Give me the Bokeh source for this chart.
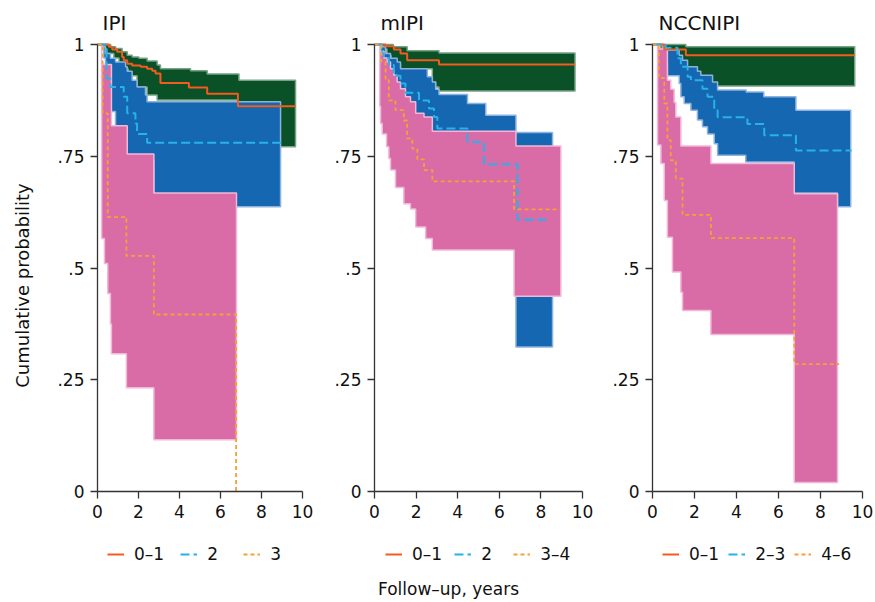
import math
from bokeh.plotting import figure
from bokeh.layouts import row
from bokeh.models import Range1d, Legend, LegendItem, Label, FixedTicker
from bokeh.embed import file_html
from bokeh.resources import INLINE

FONT = "DejaVu Sans"

panel_titles = ["IPI", "mIPI", "NCCNIPI"]
group_labels = [["0–1", "2", "3"], ["0–1", "2", "3–4"], ["0–1", "2–3", "4–6"]]
x_ticks = [0, 2, 4, 6, 8, 10]
y_ticks = [0, 0.25, 0.5, 0.75, 1]
y_tick_labels = ["0", ".25", ".5", ".75", "1"]
y_label = "Cumulative probability"
x_label = "Follow–up, years"

# ---------------- IPI ----------------
ipi_low_t = [0, 0.55, 0.72, 0.96, 1.2, 1.28, 1.45, 1.69, 2.1, 2.42, 2.67, 2.83, 3.07, 4.46, 5.35, 6.85, 9.66]
ipi_low_s = [1, 0.995, 0.989, 0.984, 0.972, 0.965, 0.957, 0.953, 0.95, 0.946, 0.941, 0.935, 0.914, 0.904, 0.89, 0.862, 0.862]
ipi_low_up_t = [0, 0.64, 0.88, 1.2, 1.45, 1.69, 2.02, 2.42, 2.91, 3.07, 4.54, 5.35, 6.9, 9.66]
ipi_low_up_v = [1, 0.995, 0.991, 0.984, 0.976, 0.972, 0.969, 0.963, 0.954, 0.946, 0.941, 0.934, 0.92, 0.92]
ipi_low_lo_t = [0, 0.3, 0.45, 0.8, 1.05, 1.3, 1.5, 1.93, 2.42, 2.91, 6.85, 9.66]
ipi_low_lo_v = [1, 0.99, 0.98, 0.97, 0.96, 0.945, 0.93, 0.905, 0.887, 0.876, 0.771, 0.771]

ipi_mid_t = [0, 0.44, 0.63, 1.28, 1.45, 1.85, 1.93, 2.42, 9.0]
ipi_mid_s = [1, 0.924, 0.905, 0.883, 0.846, 0.823, 0.80, 0.78, 0.78]
ipi_mid_up_t = [0, 0.3, 0.39, 0.63, 0.88, 1.37, 1.45, 1.69, 1.93, 2.34, 2.42, 8.93]
ipi_mid_up_v = [1, 0.995, 0.98, 0.969, 0.961, 0.95, 0.94, 0.92, 0.905, 0.887, 0.872, 0.872]
ipi_mid_lo_t = [0, 0.3, 0.39, 0.5, 0.63, 0.88, 1.45, 2.75, 8.93]
ipi_mid_lo_v = [1, 0.97, 0.93, 0.89, 0.85, 0.8, 0.74, 0.637, 0.637]

ipi_high_t = [0, 0.25, 0.5, 1.41, 2.75, 6.76]
ipi_high_s = [1, 0.846, 0.614, 0.527, 0.396, 0.0]
ipi_high_up_t = [0, 0.2, 0.68, 1.45, 2.75, 6.78]
ipi_high_up_v = [1, 0.955, 0.818, 0.755, 0.668, 0.668]
ipi_high_lo_t = [0, 0.2, 0.34, 0.5, 0.63, 0.68, 1.41, 2.75, 6.78]
ipi_high_lo_v = [1, 0.566, 0.51, 0.443, 0.375, 0.308, 0.232, 0.116, 0.116]

# ---------------- mIPI ----------------
mipi_low_t = [0, 0.53, 0.93, 1.25, 1.57, 3.1, 9.64]
mipi_low_s = [1, 0.996, 0.989, 0.98, 0.965, 0.955, 0.955]
mipi_low_up_t = [0, 0.9, 1.57, 3.1, 9.64]
mipi_low_up_v = [1, 0.995, 0.986, 0.981, 0.981]
mipi_low_lo_t = [0, 0.37, 0.6, 0.8, 1.09, 1.25, 2.78, 2.94, 3.1, 9.64]
mipi_low_lo_v = [1, 0.99, 0.975, 0.965, 0.955, 0.946, 0.916, 0.905, 0.896, 0.896]

mipi_mid_t = [0, 0.37, 0.45, 0.69, 0.93, 1.25, 1.49, 2.14, 2.62, 2.86, 3.02, 4.47, 5.27, 6.88, 8.32]
mipi_mid_s = [1, 0.98, 0.97, 0.954, 0.93, 0.913, 0.892, 0.875, 0.857, 0.838, 0.812, 0.782, 0.732, 0.608, 0.608]
mipi_mid_up_t = [0, 0.29, 0.53, 0.77, 1.09, 1.25, 2.54, 2.78, 2.94, 3.1, 4.47, 5.35, 6.8, 8.56]
mipi_mid_up_v = [1, 0.995, 0.98, 0.969, 0.961, 0.946, 0.928, 0.916, 0.9, 0.888, 0.868, 0.842, 0.803, 0.803]
mipi_mid_lo_t = [0, 0.29, 0.53, 0.77, 1.09, 1.5, 2.1, 2.8, 4.5, 5.35, 6.8, 8.56]
mipi_mid_lo_v = [1, 0.96, 0.92, 0.88, 0.85, 0.82, 0.79, 0.76, 0.72, 0.66, 0.323, 0.323]

mipi_high_t = [0, 0.33, 0.53, 0.69, 1.01, 1.41, 1.57, 1.82, 2.06, 2.38, 2.78, 6.71, 8.93]
mipi_high_s = [1, 0.961, 0.92, 0.875, 0.853, 0.83, 0.79, 0.767, 0.743, 0.719, 0.694, 0.631, 0.631]
mipi_high_up_t = [0, 0.25, 0.45, 0.61, 0.77, 0.93, 1.09, 1.25, 1.49, 1.73, 1.98, 2.38, 2.78, 6.8, 8.96]
mipi_high_up_v = [1, 0.985, 0.97, 0.961, 0.946, 0.931, 0.916, 0.901, 0.883, 0.872, 0.846, 0.838, 0.806, 0.773, 0.773]
mipi_high_lo_t = [0, 0.25, 0.29, 0.37, 0.58, 0.69, 0.77, 1.01, 1.41, 1.73, 1.98, 2.46, 2.78, 6.71, 8.96]
mipi_high_lo_v = [1, 0.862, 0.823, 0.8, 0.771, 0.745, 0.719, 0.68, 0.644, 0.632, 0.592, 0.566, 0.54, 0.437, 0.437]

# ---------------- NCCNIPI ----------------
nccn_low_t = [0, 0.56, 1.59, 9.63]
nccn_low_s = [1, 0.989, 0.976, 0.976]
nccn_low_up_t = [0, 1.59, 9.63]
nccn_low_up_v = [1, 0.995, 0.995]
nccn_low_lo_t = [0, 0.4, 0.6, 0.8, 1.1, 1.4, 1.8, 2.3, 3.0, 9.63]
nccn_low_lo_v = [1, 0.985, 0.96, 0.945, 0.935, 0.925, 0.918, 0.912, 0.907, 0.907]

nccn_mid_t = [0, 0.63, 1.19, 1.35, 1.67, 1.83, 2.38, 2.62, 2.94, 3.1, 4.52, 5.32, 6.83, 9.48]
nccn_mid_s = [1, 0.993, 0.969, 0.95, 0.928, 0.92, 0.901, 0.883, 0.853, 0.837, 0.822, 0.797, 0.763, 0.763]
nccn_mid_up_t = [0, 0.48, 0.56, 0.71, 1.27, 1.43, 1.67, 2.14, 2.3, 2.86, 3.1, 4.46, 5.3, 6.83, 9.44]
nccn_mid_up_v = [1, 0.995, 0.99, 0.987, 0.976, 0.965, 0.95, 0.94, 0.931, 0.916, 0.898, 0.894, 0.883, 0.853, 0.853]
nccn_mid_lo_t = [0, 0.48, 0.56, 0.71, 1.27, 1.35, 1.51, 1.83, 2.14, 2.38, 2.62, 2.94, 3.1, 4.44, 6.75, 8.81, 9.44]
nccn_mid_lo_v = [1, 0.98, 0.96, 0.93, 0.913, 0.883, 0.868, 0.853, 0.831, 0.816, 0.8, 0.778, 0.752, 0.737, 0.668, 0.637, 0.637]

nccn_high_t = [0, 0.3, 0.56, 0.71, 0.87, 1.11, 1.43, 2.78, 6.75, 8.89]
nccn_high_s = [1, 0.925, 0.868, 0.786, 0.741, 0.70, 0.619, 0.567, 0.285, 0.285]
nccn_high_up_t = [0, 0.24, 0.71, 0.87, 1.03, 1.11, 1.35, 2.78, 6.75, 8.81]
nccn_high_up_v = [1, 0.99, 0.92, 0.9, 0.87, 0.838, 0.773, 0.734, 0.666, 0.666]
nccn_high_lo_t = [0, 0.24, 0.4, 0.56, 0.71, 0.95, 1.35, 1.43, 2.78, 6.75, 8.81]
nccn_high_lo_v = [1, 0.775, 0.734, 0.651, 0.569, 0.491, 0.446, 0.405, 0.351, 0.02, 0.02]

panels = [
    [(ipi_low_t, ipi_low_s, ipi_low_up_t, ipi_low_up_v, ipi_low_lo_t, ipi_low_lo_v),
     (ipi_mid_t, ipi_mid_s, ipi_mid_up_t, ipi_mid_up_v, ipi_mid_lo_t, ipi_mid_lo_v),
     (ipi_high_t, ipi_high_s, ipi_high_up_t, ipi_high_up_v, ipi_high_lo_t, ipi_high_lo_v)],
    [(mipi_low_t, mipi_low_s, mipi_low_up_t, mipi_low_up_v, mipi_low_lo_t, mipi_low_lo_v),
     (mipi_mid_t, mipi_mid_s, mipi_mid_up_t, mipi_mid_up_v, mipi_mid_lo_t, mipi_mid_lo_v),
     (mipi_high_t, mipi_high_s, mipi_high_up_t, mipi_high_up_v, mipi_high_lo_t, mipi_high_lo_v)],
    [(nccn_low_t, nccn_low_s, nccn_low_up_t, nccn_low_up_v, nccn_low_lo_t, nccn_low_lo_v),
     (nccn_mid_t, nccn_mid_s, nccn_mid_up_t, nccn_mid_up_v, nccn_mid_lo_t, nccn_mid_lo_v),
     (nccn_high_t, nccn_high_s, nccn_high_up_t, nccn_high_up_v, nccn_high_lo_t, nccn_high_lo_v)],
]

band_fill = ["#0b5128", "#1467b0", "#d96ba7"]
band_line = ["#77a283", "#8cb3de", "#f2b8d8"]
line_color = ["#f55a1e", "#27b2ea", "#f7a035"]
line_dash = ["solid", "9 4", "4 3"]
line_width = [2.0, 2.0, 1.8]

# ---- layout geometry (pixels) ----
H = 602
fig_w = [330, 280, 265]          # figure widths (sum 875)
axis_px = [97, 44, 42]           # x-pixel of data x=0 inside each figure
axis_len = [205, 208, 210]       # pixel length of 0..10
y_top_px, y_zero_px = 44, 491    # pixel rows of y=1 and y=0
legend_x = [107, 55, 52]
legend_spacing = [16, 12, 9]
title_x = [102, 50, 48]
title_base = 22


def stairs(t, v):
    xs, ys = [t[0]], [v[0]]
    for i in range(1, len(t)):
        xs += [t[i], t[i]]
        ys += [v[i - 1], v[i]]
    return xs, ys


def band_polygon(tu, vu, tl, vl):
    ux, uy = stairs(tu, vu)
    lx, ly = stairs(tl, vl)
    return ux + lx[::-1], uy + ly[::-1]


ppu_y = (y_zero_px - y_top_px) / 1.0
y_start = -(H - y_zero_px) / ppu_y
y_end = 1 + y_top_px / ppu_y

figs = []
for k in range(3):
    ppu_x = axis_len[k] / 10.0
    x_start = -axis_px[k] / ppu_x
    x_end = 10 + (fig_w[k] - axis_px[k] - axis_len[k]) / ppu_x
    p = figure(width=fig_w[k], height=H, output_backend="svg", toolbar_location=None,
               x_range=Range1d(x_start, x_end), y_range=Range1d(y_start, y_end),
               min_border=0)
    p.outline_line_color = None
    p.grid.visible = False
    p.background_fill_color = "white"
    p.border_fill_color = "white"

    for ax in (p.xaxis[0], p.yaxis[0]):
        ax.fixed_location = 0
        ax.axis_line_color = "#333333"
        ax.axis_line_width = 1.3
        ax.major_tick_line_color = "#333333"
        ax.major_tick_line_width = 1.3
        ax.major_tick_out = 7
        ax.major_tick_in = 0
        ax.minor_tick_line_color = None
        ax.major_label_text_font = FONT
        ax.major_label_text_font_size = "17px"
        ax.major_label_text_color = "#111111"
    p.xaxis.bounds = (0, 10)
    p.yaxis.bounds = (0, 1)
    p.xaxis.ticker = FixedTicker(ticks=x_ticks)
    p.xaxis.major_label_standoff = 6
    p.yaxis.ticker = FixedTicker(ticks=y_ticks)
    p.yaxis.major_label_overrides = {t: s for t, s in zip(y_ticks, y_tick_labels)}
    p.yaxis.major_label_standoff = 6

    # confidence bands
    for g in range(3):
        t, s, tu, vu, tl, vl = panels[k][g]
        xs, ys = band_polygon(tu, vu, tl, vl)
        p.patch(xs, ys, fill_color=band_fill[g], line_color=band_line[g], line_width=1.5)

    items = []
    for g in range(3):
        t, s, tu, vu, tl, vl = panels[k][g]
        r = p.step(t, s, mode="after", line_color=line_color[g], line_width=line_width[g],
                   line_dash=line_dash[g])
        items.append(LegendItem(label=group_labels[k][g], renderers=[r]))

    leg = Legend(items=items, orientation="horizontal", location=(legend_x[k], 38),
                 glyph_width=17, glyph_height=12, label_standoff=10,
                 spacing=legend_spacing[k], padding=0, margin=0,
                 label_text_font=FONT, label_text_font_size="17px",
                 label_text_color="#111111", border_line_color=None,
                 background_fill_alpha=0)
    p.add_layout(leg)

    p.add_layout(Label(x=title_x[k], y=H - title_base, x_units="screen", y_units="screen",
                       text=panel_titles[k], text_font=FONT, text_font_size="20px",
                       text_color="#111111", text_baseline="alphabetic", text_align="left"))
    if k == 0:
        p.add_layout(Label(x=22, y=H - 285, x_units="screen", y_units="screen",
                           text=y_label, angle=math.pi / 2, text_font=FONT,
                           text_font_size="18px", text_color="#111111",
                           text_baseline="middle", text_align="center"))
    if k == 1:
        p.add_layout(Label(x=118, y=14, x_units="screen", y_units="screen",
                           text=x_label, text_font=FONT, text_font_size="17px",
                           text_color="#111111", text_baseline="alphabetic",
                           text_align="center"))
    figs.append(p)

layout = row(*figs, spacing=0)
open("out.html", "w").write(file_html(layout, INLINE))
